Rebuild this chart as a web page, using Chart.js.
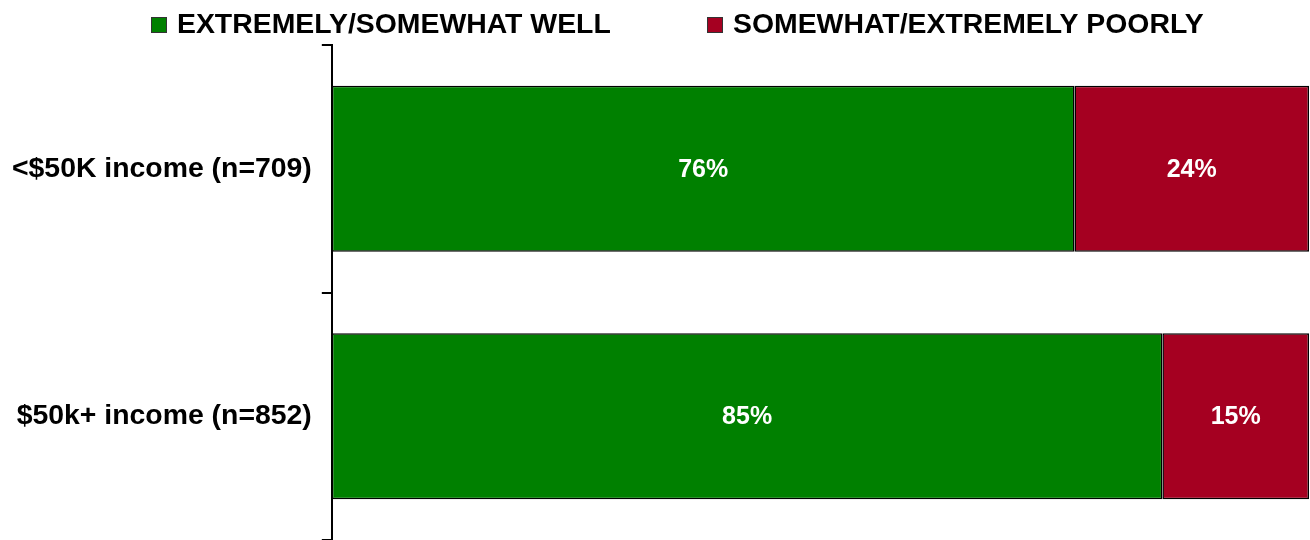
<!DOCTYPE html>
<html>
<head>
<meta charset="utf-8">
<script src="https://cdn.jsdelivr.net/npm/chart.js@4/dist/chart.umd.min.js"></script>
<style>
  html, body { margin: 0; padding: 0; background: #fff; }
  #wrap { width: 1310px; height: 540px; position: relative; }
</style>
</head>
<body>
<div id="wrap"><canvas id="chartRenda"></canvas></div>
<script>
  var categorias = ['<$50K income (n=709)', '$50k+ income (n=852)'];
  var bem = [76, 85];
  var mal = [24, 15];
  var nomesSeries = ['EXTREMELY/SOMEWHAT WELL', 'SOMEWHAT/EXTREMELY POORLY'];
  var cores = ['#008000', '#a50021'];

  var fonte = "'Liberation Sans', Arial, sans-serif";

  // rótulos de valor no meio de cada segmento
  var rotulos = {
    id: 'rotulos',
    afterDatasetsDraw: function (chart) {
      var ctx = chart.ctx;
      ctx.save();
      ctx.fillStyle = '#fff';
      ctx.font = 'bold 25px ' + fonte;
      ctx.textAlign = 'center';
      ctx.textBaseline = 'middle';
      chart.data.datasets.forEach(function (ds, i) {
        chart.getDatasetMeta(i).data.forEach(function (bar, j) {
          ctx.fillText(ds.data[j] + '%', (bar.x + bar.base) / 2, bar.y + 1);
        });
      });
      ctx.restore();
    }
  };

  // legenda desenhada à mão (espaçamento largo entre itens)
  var legenda = {
    id: 'legenda',
    afterDraw: function (chart) {
      var ctx = chart.ctx;
      var xs = [151, 707];
      ctx.save();
      ctx.font = 'bold 28.4px ' + fonte;
      ctx.textBaseline = 'middle';
      chart.data.datasets.forEach(function (ds, i) {
        ctx.fillStyle = ds.backgroundColor;
        ctx.fillRect(xs[i], 17, 16, 16);
        ctx.strokeStyle = '#333';
        ctx.lineWidth = 1;
        ctx.strokeRect(xs[i] + 0.5, 17.5, 15, 15);
        ctx.fillStyle = '#000';
        ctx.fillText(ds.label, xs[i] + 26, 25);
      });
      ctx.restore();
    }
  };

  new Chart(document.getElementById('chartRenda'), {
    type: 'bar',
    data: {
      labels: categorias,
      datasets: [
        { label: nomesSeries[0], data: bem, backgroundColor: cores[0] },
        { label: nomesSeries[1], data: mal, backgroundColor: cores[1] }
      ]
    },
    options: {
      indexAxis: 'y',
      responsive: true,
      maintainAspectRatio: false,
      animation: false,
      layout: { padding: { top: 45, left: 2, right: 1, bottom: 0 } },
      datasets: {
        bar: {
          categoryPercentage: 1,
          barPercentage: 0.67,
          borderColor: '#000',
          borderWidth: 1.5,
          borderSkipped: false
        }
      },
      plugins: {
        legend: { display: false },
        tooltip: { enabled: false }
      },
      scales: {
        x: { stacked: true, min: 0, max: 100, display: false },
        y: {
          stacked: true,
          border: { display: true, color: '#000', width: 2 },
          grid: {
            drawOnChartArea: false,
            drawTicks: true,
            tickLength: 10,
            color: '#000',
            lineWidth: 2,
            offset: true
          },
          ticks: {
            color: '#000',
            padding: 10,
            font: { family: fonte, size: 28.4, weight: 'bold' }
          },
          afterFit: function (scale) {
            scale.paddingTop = 0;
            scale.paddingBottom = 0;
          }
        }
      }
    },
    plugins: [rotulos, legenda]
  });
</script>
</body>
</html>
